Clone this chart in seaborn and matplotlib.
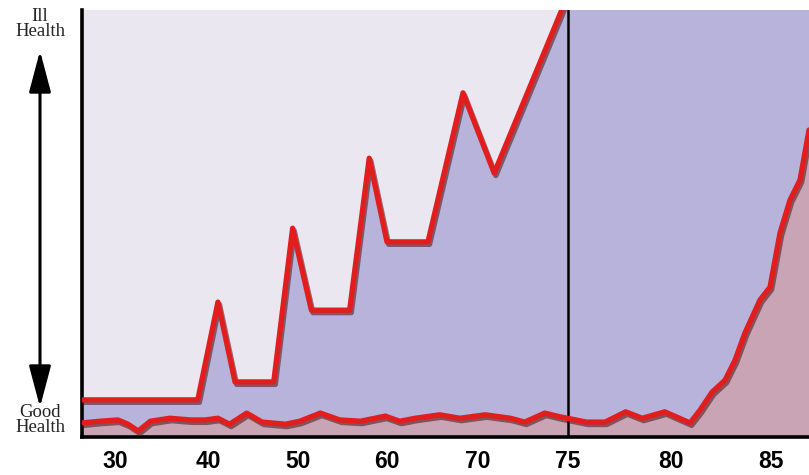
import numpy as np
import pandas as pd
import matplotlib
matplotlib.use("Agg")
import matplotlib.pyplot as plt
import matplotlib.patheffects as pe
from matplotlib.patches import FancyArrowPatch
import seaborn as sns

# ---- data ----
tick_ages = [30, 40, 50, 60, 70, 75, 80, 85]
tick_labels = ["30", "40", "50", "60", "70", "75", "80", "85"]

# upper (stepped) health line: age, health level (0 = good, 100 = ill)
upper_age = [26.45, 38.9, 41.1, 43.0, 47.3, 49.4, 51.5, 55.8, 58.0, 60.0, 64.5, 68.35, 70.9, 74.7, 76.0, 87.5]
upper_val = [8.7, 8.7, 31.6, 12.9, 12.9, 48.9, 29.7, 29.7, 65.3, 45.7, 45.7, 80.6, 61.8, 100.5, 115, 115]

# lower (wavy) health line
lower_age = [26.45, 28.4, 30.3, 31.4, 32.5, 33.8, 35.9, 38.1, 39.7, 41.1, 42.4, 44.3, 46.0, 48.6,
             50.2, 52.5, 54.7, 57.0, 59.8, 61.4, 63.1, 65.8, 68.0, 70.4, 71.8, 72.6, 73.7, 74.6,
             75.9, 76.8, 77.8, 78.6, 79.7, 80.95, 81.45, 82.05, 82.7, 83.2, 83.7, 84.45, 84.95,
             85.45, 85.95, 86.45, 86.9]
lower_val = [3.3, 3.7, 4.0, 3.0, 1.4, 3.7, 4.4, 4.0, 4.0, 4.4, 3.0, 5.6, 3.5, 3.0,
             3.7, 5.6, 4.0, 3.7, 4.9, 3.7, 4.4, 5.2, 4.4, 5.2, 4.4, 3.5, 5.6, 4.7,
             3.5, 3.5, 5.9, 4.4, 5.9, 3.3, 6.3, 10.5, 13.3, 18.0, 24.4, 32.1, 35.1,
             47.8, 55.5, 60.2, 71.9]

retire_age = 75

# piecewise-linear age axis (ticks evenly spread, later years stretched)
scale_ages = [20, 30, 40, 50, 60, 70, 75, 80, 85, 95]
scale_pos = [22, 115, 208, 298, 387, 478, 568, 671, 771, 971]

def fwd(x):
    return np.interp(x, scale_ages, scale_pos)

def inv(x):
    return np.interp(x, scale_pos, scale_ages)

# ---- style ----
sns.set_theme(style="white")
plt.rcParams["font.family"] = ["DejaVu Sans"]

BG = "#ebe7f0"
PURPLE = "#b7b3db"
PINK = "#c9a4b4"
RED = "#e11d1d"

fig = plt.figure(figsize=(8.09, 4.75), dpi=100)
ax = fig.add_axes([82 / 809, 38 / 475, 1 - 82 / 809, (437 - 10) / 475])
ax.set_facecolor(BG)
ax.set_xscale("function", functions=(fwd, inv))

up = pd.DataFrame({"age": upper_age, "val": upper_val})
lo = pd.DataFrame({"age": lower_age, "val": lower_val})

ax.fill_between(up["age"], up["val"], 0, color=PURPLE, lw=0, zorder=1)
ax.fill_between(lo["age"], lo["val"], 0, color=PINK, lw=0, zorder=2)

shadow = [pe.SimpleLineShadow(offset=(1.2, -1.8), shadow_color="#4a1010", alpha=0.55),
          pe.Normal()]
sns.lineplot(data=up, x="age", y="val", sort=False, color=RED, lw=3.8, ax=ax,
             zorder=4, path_effects=shadow)
sns.lineplot(data=lo, x="age", y="val", sort=False, color=RED, lw=3.8, ax=ax,
             zorder=4, path_effects=shadow)

ax.axvline(retire_age, color="black", lw=1.8, zorder=3)

ax.set_xlim(26.45, 86.9)
ax.set_ylim(0, 100)
ax.set_xticks(tick_ages)
ax.set_xticklabels(tick_labels, fontsize=16.5, fontweight="heavy", color="black",
                   family=["Liberation Sans Narrow", "Liberation Sans", "DejaVu Sans"])
ax.set_yticks([])
ax.tick_params(axis="x", length=0, pad=9)
ax.set_xlabel("")
ax.set_ylabel("")

for s in ["top", "right"]:
    ax.spines[s].set_visible(False)
for s in ["left", "bottom"]:
    ax.spines[s].set_color("black")
    ax.spines[s].set_linewidth(2.6)

# y direction arrow and labels
arrow = FancyArrowPatch((40, 475 - 48), (40, 475 - 410), transform=None,
                        arrowstyle="<|-|>,head_length=1.7,head_width=0.45",
                        mutation_scale=15, color="black", lw=2.2)
fig.patches.append(arrow)
serif = ["Liberation Serif", "DejaVu Serif"]
fig.text(40 / 809, 1 - 8 / 475, "Ill\nHealth", ha="center", va="top", fontsize=13.5,
         family=serif, color="#222222", linespacing=0.85)
fig.text(40 / 809, 1 - 404 / 475, "Good\nHealth", ha="center", va="top", fontsize=13.5,
         family=serif, color="#222222", linespacing=0.85)

fig.savefig("out.png", dpi=100)
